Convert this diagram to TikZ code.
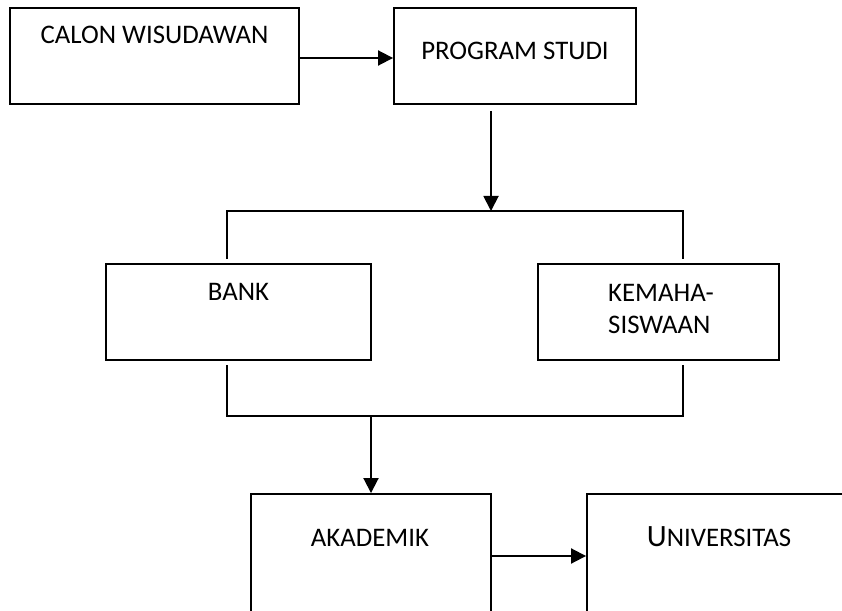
\documentclass[tikz,border=0pt]{standalone}
\usepackage{fontspec}
\setmainfont{Carlito}
\usetikzlibrary{arrows.meta}
\begin{document}
\begin{tikzpicture}[x=1bp,y=-1bp,
  box/.style={draw,line width=1.9bp,rectangle,inner sep=0pt},
  lbl/.style={inner sep=0pt,font=\fontsize{26.8bp}{33bp}\selectfont},
  bus/.style={line width=1.9bp},
  arr/.style={line width=1.9bp,-{Triangle[length=15bp,width=15bp]}}]
\useasboundingbox (0,0) rectangle (842,611);
\clip (0,0) rectangle (842,611);
\fill[white] (0,0) rectangle (842,611);

% boxes
\node[box,minimum width=289bp,minimum height=96bp] (cal)  at (154.5,56) {};
\node[box,minimum width=242bp,minimum height=96bp] (prog) at (515,56) {};
\node[box,minimum width=265bp,minimum height=96bp] (bank) at (238.5,312) {};
\node[box,minimum width=241bp,minimum height=96bp] (kema) at (658.5,312) {};
\node[box,minimum width=240bp,minimum height=220bp] (akad) at (371,604) {};
\node[box,minimum width=320bp,minimum height=220bp] (univ) at (747,604) {};

% labels
\node[lbl,anchor=base] (tcal)  at (154.5,44) {CALON WISUDAWAN};
\node[lbl,anchor=base] (tprog) at (515,60) {PROGRAM STUDI};
\node[lbl,anchor=base] (tbank) at (238.5,300) {BANK};
\node[lbl,anchor=base west] (tkema1) at (608,301) {KEMAHA-};
\node[lbl,anchor=base west] (tkema2) at (608,333) {SISWAAN};
\node[lbl,anchor=base] (takad) at (370,546) {AKADEMIK};
\node[lbl,anchor=base] (tuniv) at (719,546) {{\fontsize{31bp}{33bp}\selectfont U}NIVERSITAS};

% junction points of the two bus lines
\coordinate (ptop)  at (491,111);
\coordinate (bt)    at (491,211);
\coordinate (btl)   at (227,211);
\coordinate (btr)   at (683,211);
\coordinate (btl2)  at (227,259);
\coordinate (btr2)  at (683,259);
\coordinate (bbl1)  at (227,365);
\coordinate (bbr1)  at (683,365);
\coordinate (bbl)   at (227,416);
\coordinate (bbr)   at (683,416);
\coordinate (bb)    at (371,416);
\coordinate (lvl1)  at (0,58);
\coordinate (lvl2)  at (0,556);

% connectors
\draw[arr] (cal.east |- lvl1) -- (prog.west |- lvl1);
\draw[arr] (ptop) -- (bt);
\draw[bus] (btl2) -- (btl) -- (btr) -- (btr2);
\draw[bus] (bbl1) -- (bbl) -- (bbr) -- (bbr1);
\draw[arr] (bb) -- (akad.north);
\draw[arr] (akad.east |- lvl2) -- (univ.west |- lvl2);
\end{tikzpicture}
\end{document}
